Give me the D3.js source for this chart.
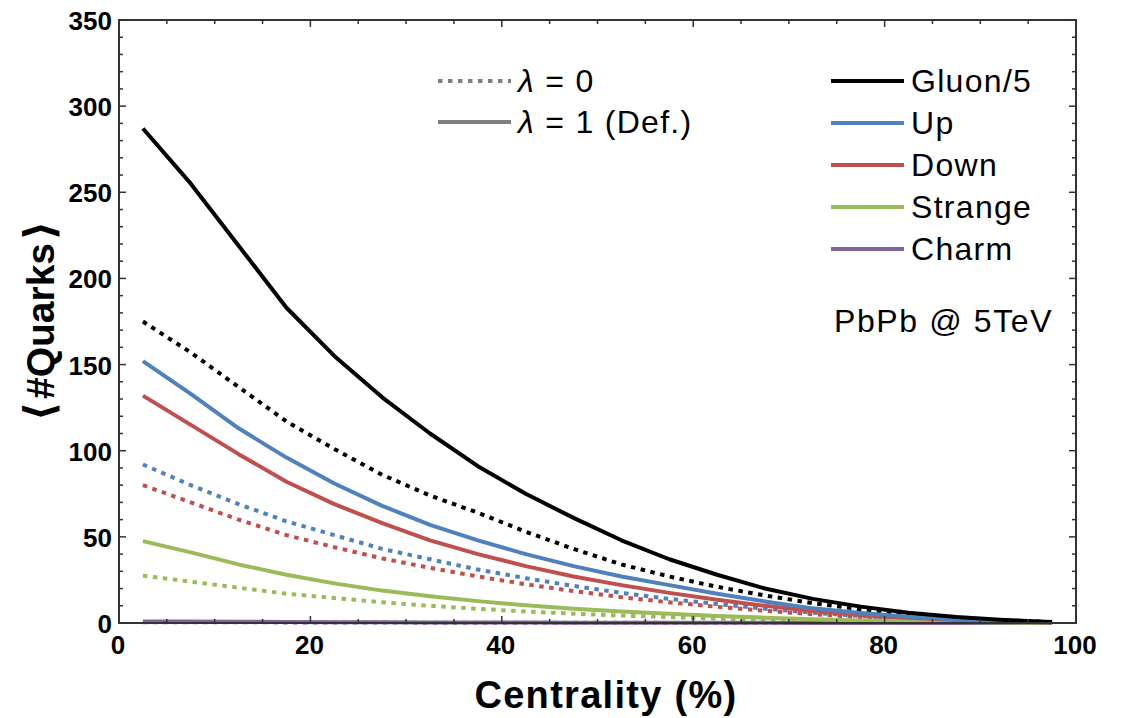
<!DOCTYPE html>
<html>
<head>
<meta charset="utf-8">
<script src="https://cdn.jsdelivr.net/npm/d3@7"></script>
<style>
  body { margin: 0; background: #fff; }
  svg { display: block; font-family: "Liberation Sans", Arial, sans-serif; }
</style>
</head>
<body>
<div id="myPlot"></div>
<script>
// centrality bin centres (%)
const centrality = [2.5, 7.5, 12.5, 17.5, 22.5, 27.5, 32.5, 37.5, 42.5, 47.5,
                    52.5, 57.5, 62.5, 67.5, 72.5, 77.5, 82.5, 87.5, 92.5, 97.5];

// lambda = 1 (default), solid lines
const gluon1   = [287, 255, 219, 183, 155, 131, 110, 91, 75, 61, 48, 37, 28, 20, 14, 9.5, 6, 3.5, 1.8, 0.6];
const up1      = [152, 133, 113, 96, 81, 68, 57, 48, 40, 33, 27, 22, 17, 12.5, 8.5, 5.8, 3.6, 2, 1, 0.4];
const down1    = [132, 115, 98, 82, 69, 58, 48, 40, 33, 27, 22, 17.5, 13.5, 10, 7, 4.7, 3, 1.7, 0.8, 0.3];
const strange1 = [47.5, 41, 34, 28, 23, 18.8, 15.5, 12.7, 10.3, 8.3, 6.7, 5.3, 4.1, 3.1, 2.2, 1.5, 1, 0.6, 0.3, 0.1];
const charm1   = [0.9, 0.8, 0.7, 0.6, 0.5, 0.4, 0.35, 0.3, 0.25, 0.2, 0.15, 0.12, 0.1, 0.08, 0.06, 0.04, 0.03, 0.02, 0.01, 0.005];

// lambda = 0, dotted lines
const gluon0   = [175, 157, 137, 117, 101, 86, 74, 64, 53, 43, 34, 27, 21, 16, 11.5, 8, 5, 3, 1.5, 0.5];
const up0      = [92, 80, 69, 59, 51, 43, 37, 31, 26, 21.5, 17.5, 14, 11, 8.3, 6, 4, 2.6, 1.5, 0.7, 0.3];
const down0    = [80, 70, 60, 51, 44, 37.5, 32, 27, 22.5, 18.5, 15, 12, 9.4, 7.1, 5.1, 3.5, 2.2, 1.3, 0.6, 0.25];
const strange0 = [27.5, 24, 20.5, 17, 14.5, 12, 10, 8.2, 6.7, 5.4, 4.3, 3.4, 2.6, 2, 1.4, 1, 0.6, 0.35, 0.15, 0.05];
const charm0   = [0.5, 0.45, 0.4, 0.35, 0.3, 0.25, 0.2, 0.17, 0.14, 0.11, 0.09, 0.07, 0.05, 0.04, 0.03, 0.02, 0.015, 0.01, 0.005, 0.002];

const names  = ["Gluon/5", "Up", "Down", "Strange", "Charm"];
const colors = ["#000000", "#4F81BD", "#C0504D", "#9BBB59", "#8064A2"];
const solidSeries  = [gluon1, up1, down1, strange1, charm1];
const dottedSeries = [gluon0, up0, down0, strange0, charm0];

const xTicks = [0, 20, 40, 60, 80, 100];
const yTicks = [0, 50, 100, 150, 200, 250, 300, 350];

const W = 1137, H = 718;
const pLeft = 119, pRight = 1076, pTop = 20, pBottom = 623;

const svg = d3.select("#myPlot").append("svg")
  .attr("width", W).attr("height", H);

const x = d3.scaleLinear().domain([0, 100]).range([pLeft, pRight]);
const y = d3.scaleLinear().domain([0, 350]).range([pBottom, pTop]);

const line = d3.line()
  .x((d, i) => x(centrality[i]))
  .y(d => y(d));

// curves: dotted first, then solid
const curves = svg.append("g");
dottedSeries.forEach(function (s, k) {
  curves.append("path")
    .attr("d", line(s))
    .attr("fill", "none")
    .attr("stroke", colors[k])
    .attr("stroke-width", 4)
    .attr("stroke-dasharray", "4.5,5.5");
});
solidSeries.slice().reverse().forEach(function (s, j) {
  const k = solidSeries.length - 1 - j;
  curves.append("path")
    .attr("d", line(s))
    .attr("fill", "none")
    .attr("stroke", colors[k])
    .attr("stroke-width", 4)
    .attr("stroke-linejoin", "round");
});

// frame with inward ticks
const frameColor = "#333";
svg.append("rect")
  .attr("x", pLeft).attr("y", pTop)
  .attr("width", pRight - pLeft).attr("height", pBottom - pTop)
  .attr("fill", "none").attr("stroke", frameColor).attr("stroke-width", 2);

const ticks = svg.append("g").attr("stroke", frameColor).attr("stroke-width", 1.5);
d3.range(0, 101, 5).forEach(function (v) {
  const len = v % 20 === 0 ? 7 : 4;
  ticks.append("line").attr("x1", x(v)).attr("x2", x(v)).attr("y1", pBottom).attr("y2", pBottom - len);
  ticks.append("line").attr("x1", x(v)).attr("x2", x(v)).attr("y1", pTop).attr("y2", pTop + len);
});
d3.range(0, 351, 10).forEach(function (v) {
  const len = v % 50 === 0 ? 7 : 4;
  ticks.append("line").attr("y1", y(v)).attr("y2", y(v)).attr("x1", pLeft).attr("x2", pLeft + len);
  ticks.append("line").attr("y1", y(v)).attr("y2", y(v)).attr("x1", pRight).attr("x2", pRight - len);
});

// tick labels
svg.append("g").selectAll("text").data(xTicks).enter().append("text")
  .attr("x", d => x(d) - 1).attr("y", 654)
  .attr("text-anchor", "middle")
  .attr("font-size", 26).attr("font-weight", "bold")
  .text(d => d);

svg.append("g").selectAll("text").data(yTicks).enter().append("text")
  .attr("x", 112).attr("y", d => y(d) + 10)
  .attr("text-anchor", "end")
  .attr("font-size", 26).attr("font-weight", "bold")
  .text(d => d);

// axis titles
svg.append("text")
  .attr("x", 606).attr("y", 708)
  .attr("text-anchor", "middle")
  .attr("font-size", 38).attr("font-weight", "bold")
  .attr("letter-spacing", 1.3)
  .text("Centrality (%)");

const yTitle = svg.append("text")
  .attr("transform", "translate(54,321) rotate(-90)")
  .attr("text-anchor", "middle")
  .attr("font-size", 39).attr("font-weight", "bold");
yTitle.append("tspan").attr("font-family", "DejaVu Sans").attr("font-size", 42).text("\u27E8");
yTitle.append("tspan").attr("dx", 3).text("#Quarks");
yTitle.append("tspan").attr("dx", 3).attr("font-family", "DejaVu Sans").attr("font-size", 42).text("\u27E9");

// lambda legend
const lamLegend = [{ label: " = 0", dash: "4.5,5.5" }, { label: " = 1 (Def.)", dash: null }];
lamLegend.forEach(function (d, i) {
  const yy = 81 + i * 41;
  svg.append("line")
    .attr("x1", 438).attr("x2", 511).attr("y1", yy).attr("y2", yy)
    .attr("stroke", "#808080").attr("stroke-width", 4)
    .attr("stroke-dasharray", d.dash);
  const t = svg.append("text").attr("x", 518).attr("y", yy + 11)
    .attr("font-size", 32).attr("letter-spacing", 1.3);
  t.append("tspan").attr("font-style", "italic").text("\u03BB");
  t.append("tspan").text(d.label);
});

// flavour legend
names.forEach(function (n, i) {
  const yy = 81 + i * 42;
  svg.append("line")
    .attr("x1", 831).attr("x2", 904).attr("y1", yy).attr("y2", yy)
    .attr("stroke", colors[i]).attr("stroke-width", 4);
  svg.append("text")
    .attr("x", 911).attr("y", yy + 11)
    .attr("font-size", 32).attr("letter-spacing", 1.3)
    .text(n);
});

svg.append("text")
  .attr("x", 834).attr("y", 332)
  .attr("font-size", 32).attr("letter-spacing", 1.6)
  .text("PbPb @ 5TeV");
</script>
</body>
</html>
